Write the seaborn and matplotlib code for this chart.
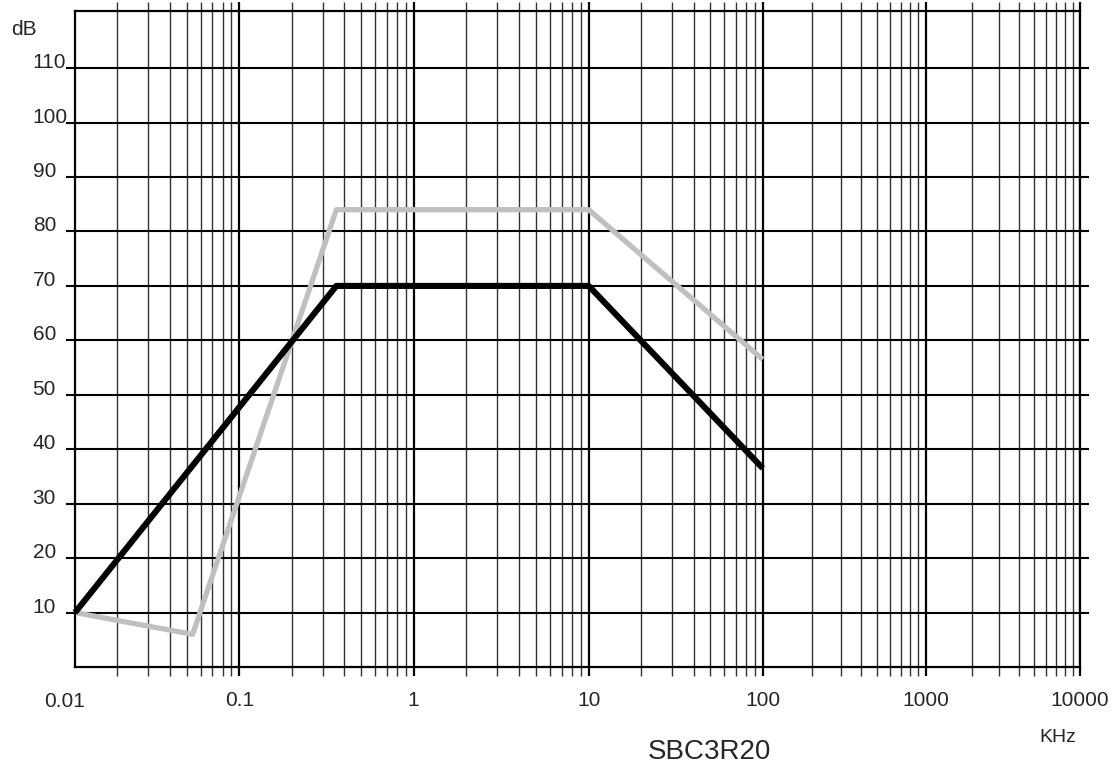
import numpy as np
import pandas as pd
import matplotlib.pyplot as plt
import seaborn as sns
from matplotlib.ticker import FixedLocator, NullFormatter
from matplotlib.transforms import blended_transform_factory

# curve values
freq_black = [0.0115, 0.36, 10, 100]
db_black = [10, 70, 70, 36.5]
freq_grey = [0.0115, 0.054, 0.36, 10, 100]
db_grey = [10, 6, 84, 84, 56.5]

x_major = [0.1, 1, 10, 100, 1000, 10000]
x_major_labels = ['0.1', '1', '10', '100', '1000', '10000']
y_ticks = [10, 20, 30, 40, 50, 60, 70, 80, 90, 100, 110]

# the printed grid paper is not a perfectly even log scale:
# decade lines sit at these horizontal positions
dec_log = [-6, -2, -1, 0, 1, 2, 3, 4, 8]
dec_pos = [-635, 65, 240, 414, 589, 763, 926, 1080, 1696]


def fwd(x):
    x = np.clip(np.asarray(x, dtype=float), 1e-300, None)
    return np.interp(np.log10(x), dec_log, dec_pos)


def inv(p):
    return 10 ** np.interp(np.asarray(p, dtype=float), dec_pos, dec_log)


df = pd.concat([
    pd.DataFrame(dict(freq=freq_grey, db=db_grey, curve='grey')),
    pd.DataFrame(dict(freq=freq_black, db=db_black, curve='black')),
])

sns.set_style('white')
plt.rcParams['font.family'] = ['Liberation Sans', 'DejaVu Sans']

fig = plt.figure(figsize=(11.15, 7.74), dpi=100)
ax = fig.add_axes([75 / 1115, 1 - 667 / 774, 1005 / 1115, 656 / 774])

ax.set_xscale('function', functions=(fwd, inv))
ax.set_xlim(0.0115, 10000)
ax.set_ylim(0, 120.5)

minor = [k * 10.0 ** d for d in range(-2, 4) for k in range(2, 10)]
minor = [m for m in minor if m > 0.0115]
ax.xaxis.set_major_locator(FixedLocator(x_major))
ax.xaxis.set_minor_locator(FixedLocator(minor))
ax.set_xticklabels(x_major_labels)
ax.xaxis.set_minor_formatter(NullFormatter())
ax.set_yticks(y_ticks)
ax.set_yticklabels([str(v) for v in y_ticks])

ax.grid(which='major', axis='x', color='black', lw=1.6)
ax.grid(which='minor', axis='x', color='#333333', lw=1.0)
ax.grid(which='major', axis='y', color='black', lw=1.5)
ax.set_axisbelow(True)

ax.tick_params(axis='x', which='major', direction='out', length=6.5, width=1.6,
               color='black', top=True, bottom=True, labelsize=15, pad=11)
ax.tick_params(axis='x', which='minor', direction='out', length=6.5, width=1.0,
               color='#333333', top=True, bottom=True)
ax.tick_params(axis='y', which='major', direction='out', length=6.5, width=1.5,
               color='black', left=True, right=True, labelsize=15, pad=24)
for lab in ax.get_yticklabels():
    lab.set_horizontalalignment('left')
    lab.set_verticalalignment('baseline')

for s in ax.spines.values():
    s.set_color('black')
    s.set_linewidth(1.6)

sns.lineplot(data=df, x='freq', y='db', hue='curve', hue_order=['grey', 'black'],
             palette={'grey': '#c0c0c0', 'black': 'black'}, sort=False,
             estimator=None, legend=False, ax=ax)
ax.lines[-2].set_linewidth(3.8)
ax.lines[-1].set_linewidth(4.4)
for ln in ax.lines[-2:]:
    ln.set_solid_capstyle('butt')
    ln.set_clip_on(False)

ax.set_xlabel('')
ax.set_ylabel('')

# 0.01 sits just left of the frame, so it is written separately
trans = blended_transform_factory(ax.transData, ax.transAxes)
ax.text(0.01, -0.038, '0.01', transform=trans, ha='center', va='top', fontsize=15)

fig.text(11 / 1115, 1 - 35 / 774, 'dB', ha='left', va='baseline', fontsize=15)
fig.text(1058 / 1115, 1 - 738 / 774, 'KHz', ha='center', va='center', fontsize=14)
fig.text(709 / 1115, 1 - 752 / 774, 'SBC3R20', ha='center', va='center', fontsize=20)

plt.savefig('out.png', dpi=100)
